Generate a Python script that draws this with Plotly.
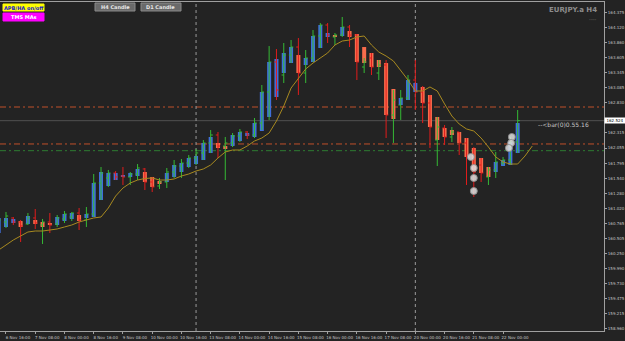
import plotly.graph_objects as go

# ---------------- data (EURJPY.a H4) ----------------
idx = list(range(-1, 71))
high = [160.909, 160.961, 160.875, 160.824, 160.943, 161.012, 160.841, 160.943, 160.909, 160.978,
        160.961, 161.029, 161.046, 161.611, 161.731, 161.680, 161.662, 161.731, 161.645, 161.782,
        161.714, 161.560, 161.543, 161.714, 161.851, 161.868, 161.936, 162.039, 162.193, 162.364,
        162.330, 162.245, 162.313, 162.382, 162.347, 162.570, 163.135, 163.802, 163.751, 163.854,
        163.905, 163.939, 163.734, 164.076, 164.196, 164.196, 164.025, 164.299, 164.162, 164.008,
        163.597, 163.683, 163.563, 163.563, 163.049, 163.049, 163.306, 163.563, 163.118, 162.964,
        162.587, 162.450, 162.416, 162.330, 162.227, 162.073, 161.885, 161.731, 161.988, 161.902,
        162.245, 162.707]
low = [160.567, 160.687, 160.738, 160.447, 160.738, 160.670, 160.413, 160.601, 160.704, 160.772,
       160.806, 160.652, 160.704, 160.875, 161.166, 161.389, 161.508, 161.423, 161.423, 161.508,
       161.337, 161.303, 161.354, 161.371, 161.543, 161.543, 161.714, 161.765, 161.851, 161.971,
       161.885, 161.508, 162.073, 162.159, 162.210, 162.227, 162.364, 162.536, 162.878, 163.169,
       163.511, 162.964, 163.169, 163.529, 163.768, 163.854, 163.820, 163.957, 163.785, 163.220,
       163.340, 163.306, 163.220, 162.227, 162.142, 162.536, 162.878, 162.707, 162.484, 162.056,
       161.748, 162.108, 162.159, 161.936, 161.423, 161.217, 161.474, 161.423, 161.543, 161.765,
       161.765, 161.971]
open_ = [160.652, 160.789, 160.858, 160.789, 160.755, 160.858, 160.738, 160.789, 160.755, 160.841,
         160.875, 160.943, 160.824, 160.926, 161.457, 161.543, 161.628, 161.577, 161.560, 161.611,
         161.697, 161.474, 161.406, 161.474, 161.645, 161.748, 161.799, 161.885, 161.971, 162.142,
         162.279, 162.090, 162.142, 162.262, 162.330, 162.279, 162.484, 163.015, 163.529, 163.306,
         163.648, 163.785, 163.340, 163.597, 163.974, 164.162, 163.957, 163.991, 164.128, 163.991,
         163.443, 163.597, 163.340, 163.477, 162.621, 162.792, 162.912, 163.220, 163.015, 162.827,
         162.193, 162.399, 162.245, 162.330, 162.142, 161.902, 161.765, 161.560, 161.680, 161.799,
         161.851, 162.159]
close = [160.824, 160.892, 160.789, 160.721, 160.858, 160.772, 160.789, 160.738, 160.858, 160.926,
         160.943, 160.824, 160.926, 161.457, 161.628, 161.628, 161.560, 161.560, 161.611, 161.714,
         161.474, 161.389, 161.474, 161.645, 161.748, 161.799, 161.885, 161.971, 162.142, 162.279,
         162.090, 162.142, 162.262, 162.330, 162.279, 162.484, 163.015, 163.529, 163.049, 163.648,
         163.785, 163.340, 163.597, 163.974, 164.162, 163.991, 163.991, 164.128, 163.991, 163.529,
         163.529, 163.443, 163.477, 162.621, 162.878, 162.912, 163.220, 163.015, 162.827, 162.416,
         162.416, 162.245, 162.330, 162.142, 161.902, 161.645, 161.628, 161.680, 161.817, 161.851,
         162.159, 162.524]
ha_open = [160.601, 160.704, 160.772, 160.806, 160.755, 160.824, 160.789, 160.772, 160.738, 160.806,
           160.841, 160.909, 160.858, 160.875, 161.166, 161.406, 161.508, 161.560, 161.560, 161.577,
           161.645, 161.560, 161.491, 161.474, 161.560, 161.645, 161.731, 161.782, 161.851, 161.971,
           162.142, 162.090, 162.090, 162.176, 162.262, 162.245, 162.347, 162.587, 162.929, 163.340,
           163.511, 163.648, 163.477, 163.529, 163.768, 163.957, 163.991, 163.974, 164.059, 164.008,
           163.785, 163.683, 163.563, 163.511, 163.066, 162.792, 162.878, 163.015, 163.101, 162.964,
           162.587, 162.399, 162.364, 162.330, 162.227, 162.056, 161.885, 161.731, 161.645, 161.748,
           161.765, 161.971]
ha_close = [160.858, 160.858, 160.841, 160.704, 160.892, 160.755, 160.704, 160.738, 160.875, 160.926,
            160.943, 160.806, 160.926, 161.457, 161.645, 161.628, 161.628, 161.594, 161.628, 161.697,
            161.474, 161.389, 161.440, 161.628, 161.765, 161.799, 161.885, 161.919, 162.142, 162.245,
            162.056, 162.056, 162.279, 162.330, 162.313, 162.484, 163.015, 163.529, 163.580, 163.683,
            163.785, 163.340, 163.597, 163.974, 164.162, 164.025, 163.957, 164.128, 163.957, 163.529,
            163.511, 163.443, 163.443, 162.621, 162.553, 162.912, 163.220, 163.169, 162.827, 162.416,
            162.193, 162.245, 162.279, 162.142, 161.902, 161.645, 161.628, 161.560, 161.817, 161.851,
            162.159, 162.484]

ma_idx = list(range(-1, 73))
ma_val = [160.310, 160.396, 160.481, 160.550, 160.618, 160.635, 160.635, 160.652, 160.670, 160.704,
          160.738, 160.789, 160.824, 160.858, 160.875, 161.029, 161.234, 161.371, 161.457, 161.508,
          161.534, 161.543, 161.508, 161.508, 161.526, 161.577, 161.611, 161.662, 161.697, 161.765,
          161.885, 161.988, 162.022, 162.022, 162.090, 162.176, 162.227, 162.313, 162.518, 162.775,
          163.083, 163.255, 163.409, 163.511, 163.597, 163.683, 163.820, 163.888, 163.905, 163.957,
          163.974, 163.820, 163.700, 163.631, 163.546, 163.392, 163.220, 163.032, 163.032, 163.101,
          163.032, 162.810, 162.604, 162.467, 162.382, 162.347, 162.227, 162.073, 161.902, 161.817,
          161.782, 161.782, 161.919, 162.090]

circ_x = [63.6, 64.0, 64.0, 64.0, 69.2, 69.1, 68.8]
circ_y = [161.902, 161.714, 161.543, 161.320, 162.245, 162.142, 162.056]

level_prices = [162.758, 162.125, 162.010]
level_colors = ["#c0502a", "#c0502a", "#2e7d32"]
bid_price = 162.524
separator_idx = [26, 56]

tick_idx = list(range(0, 69, 4))
tick_text = ["6 Nov 16:00", "7 Nov 08:00", "8 Nov 00:00", "8 Nov 16:00", "9 Nov 08:00",
             "10 Nov 00:00", "10 Nov 16:00", "13 Nov 08:00", "14 Nov 00:00", "14 Nov 16:00",
             "15 Nov 08:00", "16 Nov 00:00", "16 Nov 16:00", "17 Nov 08:00", "20 Nov 00:00",
             "20 Nov 16:00", "21 Nov 08:00", "22 Nov 00:00"]
ytick_vals = [164.375, 164.120, 163.860, 163.605, 163.345, 163.085, 162.830, 162.315, 162.055,
              161.795, 161.540, 161.280, 161.020, 160.765, 160.505, 160.250, 159.990, 159.730,
              159.475, 159.215, 158.960]

# ---------------- figure ----------------
BG = "#232323"
AX = "#a0a0a0"
TXT = "#c4c4c4"
W, H = 625, 341
ML, MR, MT, MB = 0, 21, 2, 10
PW, PH = W - ML - MR, H - MT - MB


def px(x):
    return (x - ML) / PW


def py(y):
    return (H - MB - y) / PH


fig = go.Figure()

ha_base = [min(o, c) for o, c in zip(ha_open, ha_close)]
ha_h = [abs(c - o) for o, c in zip(ha_open, ha_close)]
ha_col = ["#3f6fdc" if c >= o else "#f86c4c" for o, c in zip(ha_open, ha_close)]
fig.add_trace(go.Bar(x=idx, y=ha_h, base=ha_base, width=0.55,
                     marker=dict(color=ha_col, line=dict(width=0)), hoverinfo="skip"))

fig.add_trace(go.Ohlc(x=idx, open=open_, high=high, low=low, close=close,
                      increasing=dict(line=dict(color="#35b935", width=1)),
                      decreasing=dict(line=dict(color="#e01c1c", width=1)),
                      tickwidth=0.3, hoverinfo="skip"))

fig.add_trace(go.Scatter(x=ma_idx, y=ma_val, mode="lines",
                         line=dict(color="#a88a20", width=1), hoverinfo="skip"))

fig.add_trace(go.Scatter(x=circ_x, y=circ_y, mode="markers",
                         marker=dict(size=7, color="rgba(225,225,225,0.85)",
                                     line=dict(color="rgba(140,140,140,0.9)", width=1)),
                         hoverinfo="skip"))

shapes = []
for p, c in zip(level_prices, level_colors):
    shapes.append(dict(type="line", xref="paper", x0=0, x1=1, yref="y", y0=p, y1=p,
                       line=dict(color=c, width=1, dash="6px,3px,2px,3px"), layer="below"))
shapes.append(dict(type="line", xref="paper", x0=0, x1=1, yref="y", y0=bid_price, y1=bid_price,
                   line=dict(color="#505050", width=1), layer="below"))
for s in separator_idx:
    shapes.append(dict(type="line", xref="x", x0=s, x1=s, yref="paper", y0=0, y1=1,
                       line=dict(color="#9a9a9a", width=1, dash="dot"), layer="below"))

# buttons
buttons = [
    ("APB/HA on/off", 3, 44, 4, 11, "#ffff00", "#1a1ad0"),
    ("TMS MAs", 3, 44, 13, 21, "#ff00ff", "#ffffff"),
    ("H4 Candle", 95, 135, 3, 11, "#6a6a6a", "#e6e6e6"),
    ("D1 Candle", 141, 181, 3, 11, "#6a6a6a", "#e6e6e6"),
]
annotations = []
for text, x0, x1, y0, y1, fill, fc in buttons:
    shapes.append(dict(type="rect", xref="paper", yref="paper", x0=px(x0), x1=px(x1),
                       y0=py(y1), y1=py(y0), fillcolor=fill,
                       line=dict(color="#8a8a8a" if fill == "#6a6a6a" else fill, width=1)))
    annotations.append(dict(xref="paper", yref="paper", x=px((x0 + x1) / 2), y=py((y0 + y1) / 2),
                            text="<b>%s</b>" % text, showarrow=False,
                            font=dict(size=5, color=fc, family="DejaVu Sans"),
                            xanchor="center", yanchor="middle"))

annotations.append(dict(xref="paper", yref="paper", x=px(599), y=py(10), text="<b>EURJPY.a H4</b>",
                        showarrow=False, xanchor="right", yanchor="middle",
                        font=dict(size=7, color="#8c8c8c", family="DejaVu Sans")))
annotations.append(dict(xref="paper", yref="paper", x=px(599), y=py(20), text="-----",
                        showarrow=False, xanchor="right", yanchor="middle",
                        font=dict(size=4, color="#9a9a9a", family="DejaVu Sans")))
annotations.append(dict(xref="x", yref="y", x=72.5, y=162.467, text="--&lt;bar(0)0.55.16",
                        showarrow=False, xanchor="left", yanchor="middle",
                        font=dict(size=6, color="#c8c8c8", family="DejaVu Sans")))
annotations.append(dict(xref="paper", yref="y", x=1, y=bid_price, text="%.3f" % bid_price,
                        showarrow=False, xanchor="left", yanchor="middle", xshift=0,
                        bgcolor="#ffffff", borderpad=0, width=20,
                        font=dict(size=4, color="#000000", family="DejaVu Sans")))

fig.update_layout(
    width=W, height=H, template="none",
    paper_bgcolor=BG, plot_bgcolor=BG,
    margin=dict(l=ML, r=MR, t=MT, b=MB, pad=0),
    showlegend=False, barmode="overlay",
    shapes=shapes, annotations=annotations,
    xaxis=dict(range=[-0.82, 81.81], showgrid=False, zeroline=False, showline=True,
               linecolor=AX, linewidth=1, mirror=True,
               tickmode="array", tickvals=tick_idx, ticktext=tick_text, tickangle=0,
               ticks="outside", ticklen=2, tickcolor=AX, ticklabelshift=12,
               ticklabelstandoff=0,
               tickfont=dict(size=4, color=TXT, family="DejaVu Sans"),
               rangeslider=dict(visible=False), automargin=False, fixedrange=True),
    yaxis=dict(range=[158.923, 164.556], side="right", showgrid=False, zeroline=False,
               showline=True, linecolor=AX, linewidth=1,
               tickmode="array", tickvals=ytick_vals, ticktext=["%.3f" % v for v in ytick_vals],
               ticks="outside", ticklen=2, tickcolor=AX,
               tickfont=dict(size=4, color=TXT, family="DejaVu Sans"),
               automargin=False, fixedrange=True),
)

fig.write_html("out.html", config={"displayModeBar": False})
